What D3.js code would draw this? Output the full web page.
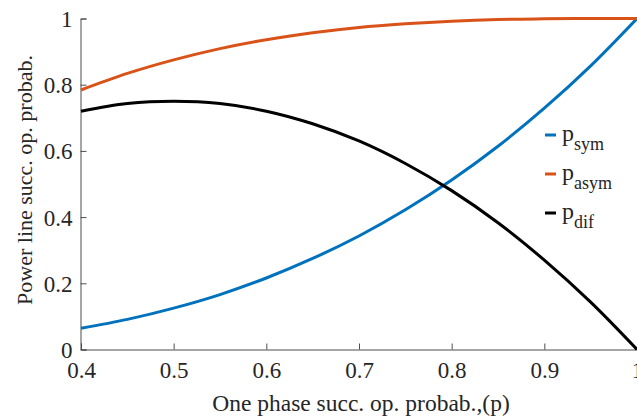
<!DOCTYPE html>
<html><head><meta charset="utf-8">
<script src="https://cdn.jsdelivr.net/npm/d3@7"></script>
<style>body{margin:0;background:#fff}svg{display:block}text{font-family:"Liberation Serif","Times New Roman",serif;fill:#262626}</style>
</head><body><svg id="c" width="637" height="416"></svg>
<script>
const pValues = [0.40,0.45,0.50,0.55,0.60,0.65,0.70,0.75,0.80,0.85,0.90,0.95,1.00];
const pSym  = [0.064,0.091,0.125,0.166,0.216,0.275,0.343,0.422,0.512,0.614,0.729,0.857,1.000];
const pAsym = [0.784,0.834,0.875,0.909,0.936,0.957,0.973,0.984,0.992,0.997,0.999,1.000,1.000];
const pDif  = [0.720,0.743,0.750,0.743,0.720,0.682,0.630,0.562,0.480,0.383,0.270,0.143,0.000];
const xTicks = [0.4,0.5,0.6,0.7,0.8,0.9,1];
const yTicks = [0,0.2,0.4,0.6,0.8,1];
const seriesNames = ["sym","asym","dif"];
const seriesColors = ["#0072BD","#D95319","#000000"];
const seriesData = [pSym,pAsym,pDif];

const svg = d3.select("#c");
const x = d3.scaleLinear().domain([0.4,1]).range([81,637]);
const y = d3.scaleLinear().domain([0,1]).range([349.5,18.5]);

// axes
const axC = "#4d4d4d";
const xa = svg.append("g").attr("transform","translate(0,349.5)")
  .call(d3.axisBottom(x).tickValues(xTicks).tickSize(-6).tickPadding(12).tickFormat(d=>d===1?"1":d3.format(".1f")(d)));
const ya = svg.append("g").attr("transform","translate(80.5,0)")
  .call(d3.axisLeft(y).tickValues(yTicks).tickSize(-6).tickPadding(8).tickFormat(d=>(d===0||d===1)?String(d):d3.format(".1f")(d)));
[xa,ya].forEach(g=>{
  g.attr("font-family",null);
  g.select(".domain").attr("stroke",axC).attr("stroke-width",1);
  g.selectAll(".tick line").attr("stroke",axC);
  g.selectAll("text").attr("font-family","Liberation Serif").attr("font-size",23).attr("fill","#262626");
});
xa.selectAll(".tick text").attr("dy","0.71em");
ya.selectAll(".tick text").attr("dy","0.35em");

// lines
const line = d3.line().x((d,i)=>x(pValues[i])).y(d=>y(d)).curve(d3.curveCatmullRom);
seriesData.forEach((s,k)=>{
  svg.append("path").datum(s).attr("d",line).attr("fill","none")
    .attr("stroke",seriesColors[k]).attr("stroke-width",3).attr("stroke-linejoin","round");
});

// axis labels
svg.append("text").attr("x",361).attr("y",411).attr("text-anchor","middle")
  .attr("font-size",23.5).text("One phase succ. op. probab.,(p)");
svg.append("text").attr("transform","translate(32,180) rotate(-90)").attr("text-anchor","middle")
  .attr("font-size",22).text("Power line succ. op. probab.");

// legend
const leg = svg.append("g");
seriesNames.forEach((n,k)=>{
  const yy = 135 + k*39;
  leg.append("line").attr("x1",545).attr("x2",556).attr("y1",yy).attr("y2",yy)
    .attr("stroke",seriesColors[k]).attr("stroke-width",3);
  const t = leg.append("text").attr("x",562).attr("y",yy+6).attr("font-size",24);
  t.append("tspan").text("p");
  t.append("tspan").attr("dy",9).attr("font-size",18).text(n);
});
</script></body></html>
